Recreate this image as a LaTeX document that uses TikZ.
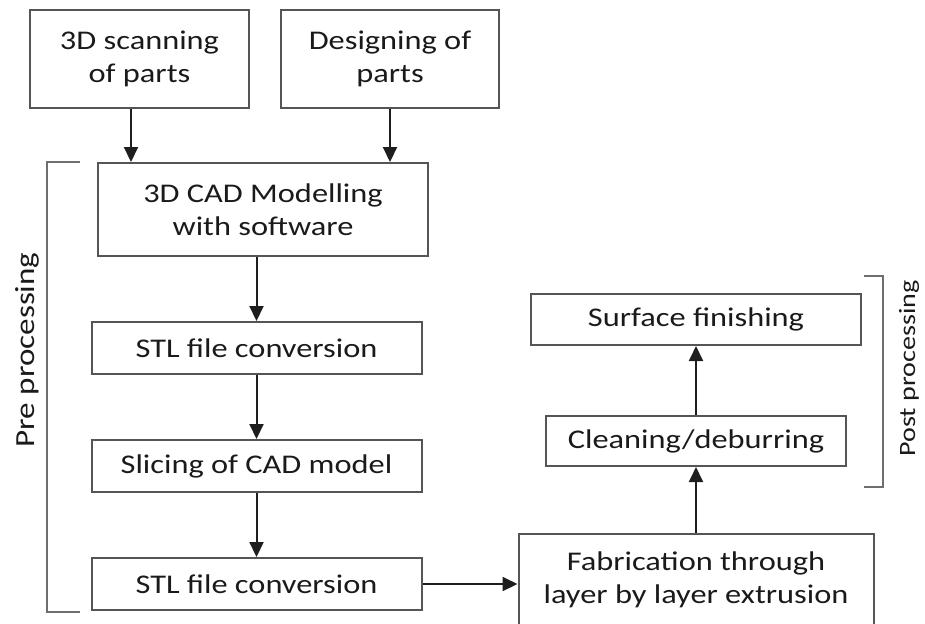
\documentclass[tikz,border=0pt]{standalone}
\usepackage{fontspec}
\setmainfont{Carlito}[FakeStretch=1.2]
\usetikzlibrary{arrows.meta,positioning}

\definecolor{boxline}{HTML}{555555}
\definecolor{boxtext}{HTML}{1A1A1A}
\definecolor{flowline}{HTML}{1E1E1E}

\begin{document}
\begin{tikzpicture}[->,>={Triangle[length=7.5pt,width=7pt]},line width=1pt,node distance=32pt]
  \tikzstyle{every node}=[text=boxtext,font=\fontsize{13.5}{16.5}\selectfont]
  \tikzstyle{stage}=[draw=boxline,align=center,minimum width=165pt,minimum height=26pt]
  \tikzstyle{every edge}=[draw=flowline]
  \tikzstyle{bracket}=[-,draw=boxline!85,line width=0.75pt]

  \useasboundingbox (0,0) rectangle (462.5pt,-311.5pt);

  % left column
  \node[stage, minimum height=46.5pt] (cad) at (131.5pt,-104.75pt) {3D CAD Modelling\\with software};
  \node[stage, minimum width=109.5pt, minimum height=49pt] (scan) [above=26.5pt of cad, xshift=-61.75pt] {3D scanning\\of parts};
  \node[stage, minimum width=109pt, minimum height=49pt] (design) [right=15pt of scan] {Designing of\\parts};
  \node[stage] (stlA)  [below=of cad, xshift=-3.25pt] {STL file conversion};
  \node[stage] (slice) [below=of stlA]                {Slicing of CAD model};
  \node[stage] (stlB)  [below=of slice]               {STL file conversion};

  % right column
  \node[stage, minimum width=177.5pt, minimum height=45.5pt] (fab) [right=47.5pt of stlB, yshift=2.25pt] {Fabrication through\\layer by layer extrusion};
  \node[stage, minimum width=150pt, minimum height=25pt] (clean) [above=33pt of fab]   {Cleaning/deburring};
  \node[stage, minimum height=25.5pt]                    (surf)  [above=34.5pt of clean] {Surface finishing};

  \coordinate (scanfoot) at ([xshift=-4.25pt]scan.south);

  \path (scanfoot)             edge (scanfoot |- cad.north)
        (design.south)         edge (design.south |- cad.north)
        (stlA.north |- cad.south) edge (stlA.north)
        (stlA)                 edge (slice)
        (slice)                edge (stlB)
        (stlB.east)            edge (stlB.east -| fab.west)
        (fab)                  edge (clean)
        (clean)                edge (surf);

  % phase brackets
  \draw[bracket] (40pt,-81pt) -| (23.5pt,-306pt) -- (40pt,-306pt);
  \draw[bracket] (432pt,-138pt) -| (441.5pt,-243.5pt) -- (432pt,-243.5pt);

  \node[rotate=90, font=\fontsize{13.8}{16}\selectfont] (pre)  at (13.75pt,-175pt)   {Pre processing};
  \node[rotate=90, font=\fontsize{11.7}{14}\selectfont] (post) at (454.5pt,-184.25pt) {Post processing};
\end{tikzpicture}
\end{document}
